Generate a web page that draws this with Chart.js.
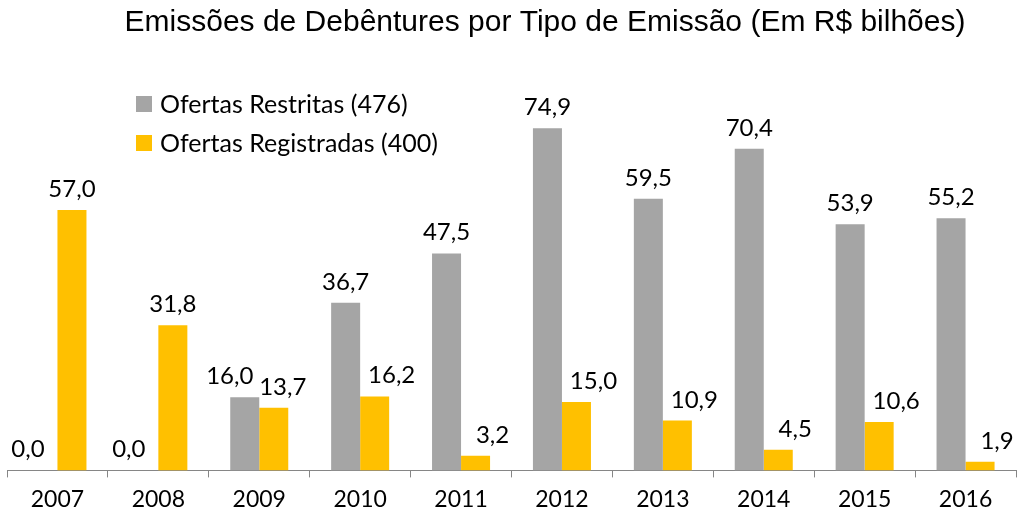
<!DOCTYPE html>
<html>
<head>
<meta charset="utf-8">
<title>Emissões de Debêntures</title>
<script src="https://cdn.jsdelivr.net/npm/chart.js"></script>
<style>
  html, body { margin: 0; padding: 0; background: #fff; }
  .wrap { width: 1024px; height: 523px; }
</style>
</head>
<body>
<div class="wrap"><canvas id="debChart"></canvas></div>
<script>
const years = ['2007', '2008', '2009', '2010', '2011', '2012', '2013', '2014', '2015', '2016'];
const restritas = [0.0, 0.0, 16.0, 36.7, 47.5, 74.9, 59.5, 70.4, 53.9, 55.2];
const registradas = [57.0, 31.8, 13.7, 16.2, 3.2, 15.0, 10.9, 4.5, 10.6, 1.9];
const seriesNames = ['Ofertas Restritas (476)', 'Ofertas Registradas (400)'];
const chartTitle = 'Emissões de Debêntures por Tipo de Emissão (Em R$ bilhões)';

const labelFont = '24px Lato';

// value labels above bars, nudged sideways like Excel does when they crowd
const barLabels = {
  id: 'barLabels',
  afterDatasetsDraw(chart) {
    const ctx = chart.ctx;
    const grey = chart.data.datasets[0].data;
    const yellow = chart.data.datasets[1].data;
    ctx.save();
    ctx.font = labelFont;
    ctx.fillStyle = '#000';
    ctx.textAlign = 'center';
    ctx.textBaseline = 'alphabetic';
    chart.data.datasets.forEach((ds, di) => {
      const meta = chart.getDatasetMeta(di);
      meta.data.forEach((bar, i) => {
        const v = ds.data[i];
        const crowded = yellow[i] > grey[i] - 8;
        let dx = 0;
        if (di === 0 && crowded) dx = -15;
        if (di === 1 && grey[i] > 0) dx = crowded ? 9 : 17;
        ctx.fillText(v.toFixed(1).replace('.', ','), bar.x + dx, bar.y - 13);
      });
    });
    ctx.restore();
  }
};

// legend inside the plot (top-left) and the off-centre title
const innerLegend = {
  id: 'innerLegend',
  afterDraw(chart) {
    const ctx = chart.ctx;
    ctx.save();
    ctx.fillStyle = '#000';
    ctx.font = '30px "Liberation Sans"';
    ctx.textAlign = 'center';
    ctx.textBaseline = 'middle';
    ctx.fillText(chartTitle, 545, 23);

    ctx.font = '25px Lato';
    ctx.textAlign = 'left';
    chart.data.datasets.forEach((ds, i) => {
      const y = 104 + i * 39;
      ctx.fillStyle = ds.backgroundColor;
      ctx.fillRect(136, y - 8, 16, 16);
      ctx.fillStyle = '#000';
      ctx.fillText(ds.label, 160, y + 1);
    });
    ctx.restore();
  }
};

new Chart(document.getElementById('debChart'), {
  type: 'bar',
  data: {
    labels: years,
    datasets: [
      { label: seriesNames[0], data: restritas, backgroundColor: '#A5A5A5' },
      { label: seriesNames[1], data: registradas, backgroundColor: '#FFC000' }
    ]
  },
  options: {
    responsive: true,
    maintainAspectRatio: false,
    animation: false,
    datasets: { bar: { categoryPercentage: 0.575, barPercentage: 1.0 } },
    layout: { padding: { left: 7, right: 8, top: 105, bottom: 2 } },
    plugins: {
      legend: { display: false },
      tooltip: { enabled: false },
      title: { display: false }
    },
    scales: {
      x: {
        grid: { display: true, drawOnChartArea: false, color: '#868686', tickLength: 7 },
        border: { display: true, color: '#868686', width: 1 },
        ticks: { color: '#000', font: { family: 'Lato', size: 23 }, padding: 8 }
      },
      y: {
        display: false,
        min: 0,
        max: 80
      }
    }
  },
  plugins: [barLabels, innerLegend]
});
</script>
</body>
</html>
